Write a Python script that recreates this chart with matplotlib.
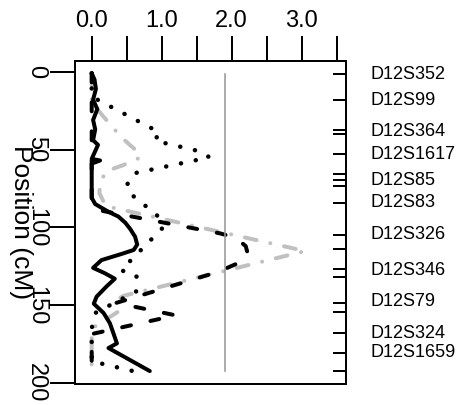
import matplotlib
matplotlib.use("Agg")
import matplotlib.pyplot as plt
from matplotlib.transforms import blended_transform_factory

plt.rcParams['font.family'] = ['Liberation Sans', 'DejaVu Sans']
plt.rcParams['lines.scale_dashes'] = False

DPI = 100
def px(v):
    return v * 72.0 / DPI

# ---------------- data ----------------
# LOD profiles along the chromosome (position in cM)
solid_pos = [1, 5, 11, 18, 24, 31, 37, 44, 47, 51, 56, 57, 59, 70, 81, 85, 90, 93, 97, 101,
             106, 111, 114.5, 117, 121, 126, 129.5, 133, 138, 144.5, 149, 155, 161.6, 168,
             174.5, 177.5, 181, 192.3]
solid_lod = [0.0, 0.04, 0.06, 0.02, 0.08, 0.02, 0.05, 0.02, 0.09, 0.05, 0.0, 0.12, 0.0, 0.0,
             0.0, 0.05, 0.24, 0.38, 0.48, 0.55, 0.62, 0.65, 0.6, 0.43, 0.14, 0.02, 0.19, 0.33,
             0.21, 0.07, 0.03, 0.17, 0.26, 0.31, 0.36, 0.24, 0.38, 0.83]

dashed_pos = [1, 30, 60, 85, 88.5, 103.8, 106.5, 112, 117, 121, 128.5, 148.5, 156.5, 168.5, 192.3]
dashed_lod = [0.0, 0.0, 0.0, 0.0, 0.05, 1.83, 2.05, 2.2, 2.23, 2.19, 1.81, 0.35, 1.2, 0.0, 0.0]

dotted_pos = [1, 16, 39, 44.3, 51.4, 55, 65.3, 73, 79, 92, 100, 127.5, 131, 141, 155, 165, 186, 192.3]
dotted_lod = [0.0, 0.0, 0.97, 0.9, 1.57, 1.68, 0.6, 0.5, 0.57, 0.93, 1.02, 0.42, 0.64, 0.64,
              0.05, 0.0, 0.0, 0.59]

dashdot_pos = [1, 20, 42, 50, 55, 60, 64, 72, 78, 86.3, 115.2, 144, 149.5, 153.5, 165, 192.3]
dashdot_lod = [0.0, 0.0, 0.42, 0.62, 0.7, 0.45, 0.2, 0.12, 0.11, 0.2, 3.05, 0.45, 0.25, 0.4,
               0.0, 0.0]

threshold = 1.9

marker_pos = [1.5, 18.2, 37.5, 40.0, 52.9, 65.7, 69.6, 73.4, 84.4, 104.9, 113.9, 126.7,
              131.9, 148.6, 154.4, 167.9, 180.7, 192.3]
label_names = ["D12S352", "D12S99", "D12S364", "D12S1617", "D12S85", "D12S83",
               "D12S326", "D12S346", "D12S79", "D12S324", "D12S1659"]
label_pos = [1.5, 18.2, 38.1, 52.9, 69.6, 83.7, 104.3, 128.0, 147.9, 167.9, 180.1]

x_ticks = [0.0, 0.5, 1.0, 1.5, 2.0, 2.5, 3.0, 3.5]
x_ticklabels = ["0.0", "", "1.0", "", "2.0", "", "3.0", ""]
y_ticks = [0, 50, 100, 150, 200]
y_ticklabels = ["0", "50", "100", "150", "200"]
ylabel = "Position (cM)"

# ---------------- figure ----------------
fig = plt.figure(figsize=(4.64, 4.05), dpi=DPI)
ax = fig.add_axes([75 / 464, 1 - 384 / 405, 271 / 464, 323 / 405])

ax.plot(dashdot_lod, dashdot_pos, color='#c0c0c0', lw=px(4),
        dashes=[px(12), px(14), px(0.1), px(14)], dash_capstyle='round', solid_joinstyle='round')
ax.plot(dotted_lod, dotted_pos, color='black', lw=px(4.5),
        dashes=[px(0.1), px(15)], dash_capstyle='round')
ax.plot(dashed_lod, dashed_pos, color='black', lw=px(4),
        dashes=[px(9), px(20)], dash_capstyle='round')
ax.plot(solid_lod, solid_pos, color='black', lw=px(4),
        solid_capstyle='round', solid_joinstyle='round')
ax.plot([threshold, threshold], [marker_pos[0], marker_pos[-1]], color='#999999', lw=px(1.6))

ax.set_xlim(-0.2386, 3.633)
ax.set_ylim(200.6, -6.9)

for s in ax.spines.values():
    s.set_linewidth(px(2))

ax.xaxis.set_ticks_position('top')
ax.set_xticks(x_ticks)
ax.set_xticklabels(x_ticklabels)
ax.tick_params(axis='x', length=px(25), width=px(2), pad=px(4), labelsize=17)

ax.set_yticks(y_ticks)
ax.set_yticklabels(y_ticklabels)
ax.tick_params(axis='y', length=px(25), width=px(2), pad=px(3), labelsize=17,
               labelrotation=-90)
for lab in ax.get_yticklabels():
    lab.set_va('center')

ax2 = ax.twinx()
ax2.set_ylim(ax.get_ylim())
ax2.set_yticks(marker_pos)
ax2.tick_params(axis='y', direction='in', length=px(13), width=px(2), labelright=False)
for s in ax2.spines.values():
    s.set_visible(False)

trans = blended_transform_factory(ax.transAxes, ax.transData)
for name, p in zip(label_names, label_pos):
    ax.text((371 - 75) / 271, p, name, transform=trans, ha='left', va='center',
            fontsize=13, clip_on=False)

fig.text(21 / 464, 1 - 222 / 405, ylabel, rotation=270, ha='center', va='center', fontsize=19)

fig.savefig("out.png", dpi=DPI)
